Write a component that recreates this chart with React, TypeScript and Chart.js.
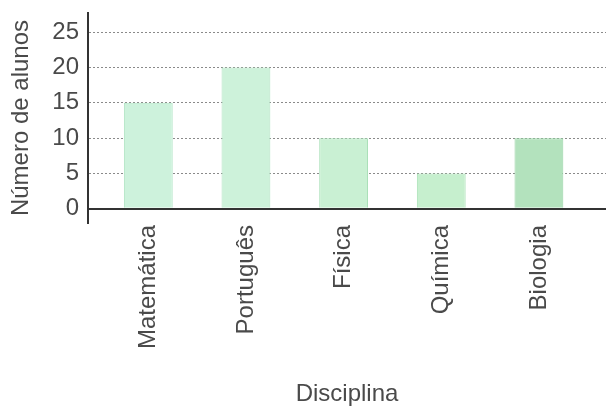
import React, { useEffect, useRef } from "react";
import { Chart, registerables } from "chart.js";

Chart.register(...registerables);

const categories = ["Matemática", "Português", "Física", "Química", "Biologia"];
const alunos = [15, 20, 10, 5, 10];
const yTicks = [0, 5, 10, 15, 20, 25];
const barColors = ["#cdf2dc", "#cdf2da", "#c9f0d3", "#c6efce", "#b3e2bd"];
const barBorders = ["#aee3c3", "#aee3c0", "#aae0b8", "#a8e0b5", "#96d3a3"];

const FONT = "'Liberation Sans', Arial, Helvetica, sans-serif";
const TEXT = "#4a4a4a";

export default function App() {
  const ref = useRef<HTMLCanvasElement | null>(null);

  useEffect(() => {
    if (!ref.current) return;
    const chart = new Chart(ref.current, {
      type: "bar",
      data: {
        datasets: [
          {
            data: alunos.map((v, i) => ({ x: i, y: v })),
            backgroundColor: barColors,
            borderColor: barBorders,
            borderWidth: 1,
            categoryPercentage: 0.5,
            barPercentage: 1,
          },
        ],
      },
      options: {
        animation: false,
        responsive: true,
        maintainAspectRatio: false,
        layout: { padding: { top: 13, left: 0, right: 0, bottom: 0 } },
        plugins: { legend: { display: false }, tooltip: { enabled: false } },
        scales: {
          x: {
            type: "linear",
            offset: false,
            min: -0.6175,
            max: 4.687,
            afterBuildTicks: (axis: any) => {
              axis.ticks = categories.map((_, i) => ({ value: i }));
            },
            afterFit: (axis: any) => {
              axis.height = 184;
              axis.paddingLeft = 0;
              axis.paddingRight = 0;
            },
            grid: { display: false, drawTicks: false, offset: false },
            border: { display: false },
            ticks: {
              autoSkip: false,
              minRotation: 90,
              maxRotation: 90,
              padding: 2,
              color: TEXT,
              font: { family: FONT, size: 24 },
              callback: (v: any) => categories[Math.round(Number(v))] ?? "",
            },
            title: {
              display: true,
              text: "Disciplina",
              color: TEXT,
              font: { family: FONT, size: 24 },
              padding: { top: 0, bottom: -2 },
            },
          },
          y: {
            type: "linear",
            min: -2,
            max: 27.7,
            afterBuildTicks: (axis: any) => {
              axis.ticks = yTicks.map((v) => ({ value: v }));
            },
            afterFit: (axis: any) => {
              axis.width = 88;
              axis.paddingTop = 0;
              axis.paddingBottom = 0;
            },
            grid: {
              drawTicks: false,
              color: (ctx: any) =>
                ctx.tick && ctx.tick.value === 0 ? "#333333" : "#8a8a8a",
              lineWidth: (ctx: any) => (ctx.tick && ctx.tick.value === 0 ? 2 : 1),
            },
            border: {
              display: true,
              color: "#333333",
              width: 2,
              dash: (ctx: any) =>
                ctx.tick && ctx.tick.value === 0 ? [] : [2, 2],
            } as any,
            ticks: {
              padding: 9,
              color: TEXT,
              font: { family: FONT, size: 24 },
            },
            title: {
              display: true,
              text: "Número de alunos",
              color: TEXT,
              font: { family: FONT, size: 24 },
              padding: { top: 7, bottom: 0 },
            },
          },
        },
      },
    });
    return () => chart.destroy();
  }, []);

  return (
    <div style={{ position: "fixed", left: 0, top: 0, width: 606, height: 407, background: "#fff" }}>
      <canvas ref={ref} />
    </div>
  );
}
